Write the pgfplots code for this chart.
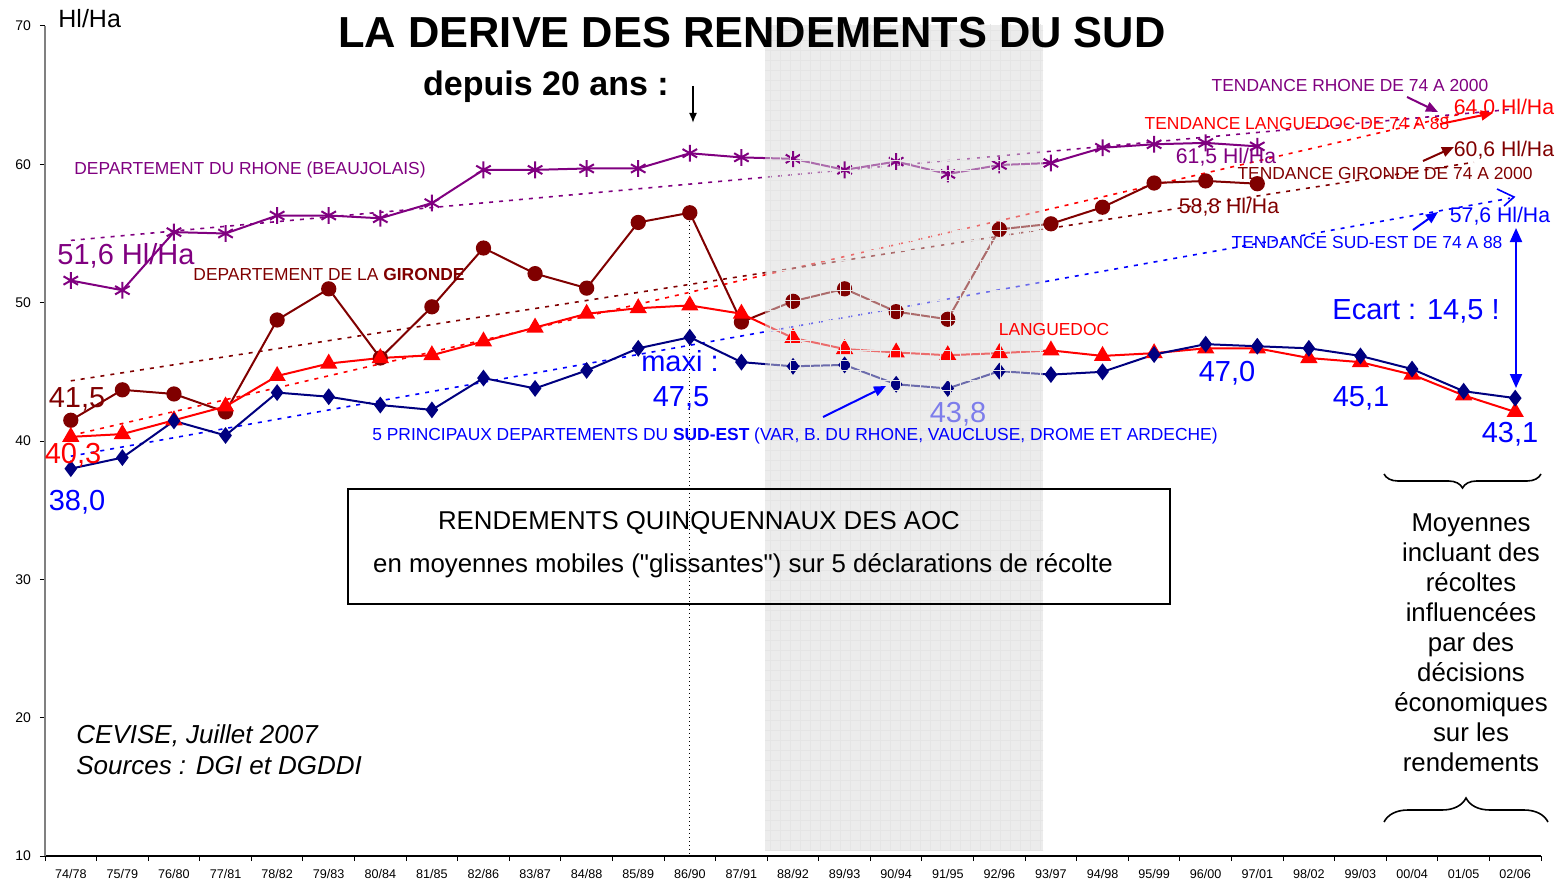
\documentclass[border=0pt]{standalone}
\usepackage{fontspec}
\setmainfont{Liberation Sans}
\newfontfamily\qfont[Ligatures=TeXOff]{Liberation Sans}
\usepackage{pgfplots}
\pgfplotsset{compat=1.18}
\usetikzlibrary{arrows.meta,decorations.pathreplacing}
\definecolor{rh}{RGB}{128,0,128}
\definecolor{gi}{RGB}{128,0,0}
\definecolor{la}{RGB}{255,0,0}
\definecolor{se}{RGB}{0,0,128}
\definecolor{bl}{RGB}{0,0,255}
\definecolor{lb}{RGB}{125,125,235}
\newcommand\fs[1]{\fontsize{#1}{#1}\selectfont}
\begin{document}
\begin{tikzpicture}
\path[use as bounding box] (0,0) rectangle (781pt,440pt);
\begin{axis}[
  at={(22.5pt,12pt)}, anchor=south west, scale only axis,
  width=748pt, height=415pt,
  xmin=-0.5, xmax=28.5, ymin=10, ymax=70,
  axis lines=left, axis line style={-},
  x axis line style={black, line width=0.8pt},
  y axis line style={gray, line width=0.8pt},
  clip=false,
  /pgf/number format/assume math mode=true,
  ytick={10,20,30,40,50,60,70},
  yticklabel style={font=\fs{7}, xshift=-1pt},
  xtick={0,...,28},
  xticklabels={74/78,75/79,76/80,77/81,78/82,79/83,80/84,81/85,82/86,83/87,84/88,85/89,86/90,87/91,88/92,89/93,90/94,91/95,92/96,93/97,94/98,95/99,96/00,97/01,98/02,99/03,00/04,01/05,02/06},
  xticklabel style={font=\fs{6.3}, yshift=-0.5pt},
  major x tick style={draw=none},
  minor xtick={-0.5,0.5,...,28.5},
  tick align=outside,
  major tick length=2.5pt, minor tick length=2.5pt,
  tick style={black, line width=0.5pt},
]
% trend lines
\addplot[rh, line width=0.8pt, dash pattern=on 2pt off 3pt] coordinates {(0,54.5) (28,64.0)};
\addplot[la, line width=0.8pt, dash pattern=on 2pt off 3pt] coordinates {(0,40.4) (26.9,63.6)};
\addplot[gi, line width=0.8pt, dash pattern=on 2pt off 3pt] coordinates {(0,44.35) (27.2,60.15)};
\addplot[bl, line width=0.8pt, dash pattern=on 2pt off 3pt] coordinates {(0,38.9) (27.9,57.55)};
% vertical dotted line at 86/90
\draw[black, line width=0.5pt, dash pattern=on 0.8pt off 1.2pt] (axis cs:12,56.5) -- (axis cs:12,10);
% Rhone
\addplot[rh, line width=1pt, mark=asterisk, mark size=4.2pt, mark options={line width=1pt}] coordinates {
(0,51.6) (1,50.9) (2,55.1) (3,55.0) (4,56.3) (5,56.3) (6,56.1) (7,57.2) (8,59.6) (9,59.6) (10,59.7) (11,59.7) (12,60.8) (13,60.5) (14,60.4) (15,59.6) (16,60.2) (17,59.3) (18,59.95) (19,60.1) (20,61.2) (21,61.45) (22,61.55) (23,61.3)};
% Gironde
\addplot[gi, line width=1pt, mark=*, mark size=3.3pt] coordinates {
(0,41.5) (1,43.7) (2,43.4) (3,42.1) (4,48.75) (5,51.0) (6,46.0) (7,49.7) (8,53.95) (9,52.1) (10,51.05) (11,55.8) (12,56.5) (13,48.6) (14,50.1) (15,51.0) (16,49.35) (17,48.8) (18,55.3) (19,55.7) (20,56.9) (21,58.65) (22,58.8) (23,58.6)};
% Languedoc
\addplot[la, line width=1pt, mark=triangle*, mark size=4pt] coordinates {
(0,40.3) (1,40.5) (2,41.5) (3,42.5) (4,44.7) (5,45.6) (6,46.0) (7,46.2) (8,47.2) (9,48.2) (10,49.2) (11,49.6) (12,49.8) (13,49.2) (14,47.45) (15,46.65) (16,46.4) (17,46.2) (18,46.35) (19,46.55) (20,46.15) (21,46.35) (22,46.7) (23,46.7) (24,46.0) (25,45.7) (26,44.8) (27,43.3) (28,42.1)};
% Sud-Est
\addplot[se, line width=1pt, mark=diamond*, mark size=3.4pt] coordinates {
(0,38.0) (1,38.8) (2,41.45) (3,40.4) (4,43.5) (5,43.2) (6,42.6) (7,42.25) (8,44.55) (9,43.8) (10,45.1) (11,46.7) (12,47.5) (13,45.7) (14,45.4) (15,45.5) (16,44.1) (17,43.8) (18,45.05) (19,44.8) (20,45.0) (21,46.25) (22,47.0) (23,46.85) (24,46.7) (25,46.15) (26,45.2) (27,43.6) (28,43.1)};
% grey overlay
\fill[black!15, opacity=0.5] (axis cs:13.45,10.45) rectangle (axis cs:18.84,70.05);
\end{axis}
\begin{scope}[shift={(0pt,440pt)}, x=0.5pt, y=-0.5pt]
% faint grid in grey band
\begin{scope}
\clip (765,25) rectangle (1043,850);
\draw[black!10, line width=0.3pt, step=5pt] (760,20) grid (1050,855);
\end{scope}
% titles
\node[anchor=base west, inner sep=0] at (58,28) {\fs{12.5}Hl/Ha};
\node[anchor=base, inner sep=0] at (752,48) {\fs{21.7}\bfseries LA DERIVE DES RENDEMENTS DU SUD};
\node[anchor=base, inner sep=0] at (546,96) {\fs{17}\bfseries depuis 20 ans :};
\draw[black, line width=0.8pt, -{Latex[length=5pt,width=4pt]}] (693,86) -- (693,123);
% trend labels
\node[anchor=base, inner sep=0, text=rh] at (1350,92) {\fs{8.7}TENDANCE RHONE DE 74 A 2000};
\node[anchor=base, inner sep=0, text=la] at (1504,115) {\fs{10.6}64,0 Hl/Ha};
\node[anchor=base, inner sep=0, text=la] at (1297,130) {\fs{8.7}TENDANCE LANGUEDOC DE 74 A 88};
\node[anchor=base, inner sep=0, text=gi] at (1504,157) {\fs{10.6}60,6 Hl/Ha};
\node[anchor=base, inner sep=0, text=rh] at (1226,164) {\fs{10.6}61,5 Hl/Ha};
\node[anchor=base, inner sep=0, text=gi] at (1385,180) {\fs{8.7}TENDANCE GIRONDE DE 74 A 2000};
\node[anchor=base, inner sep=0, text=gi] at (1229,213) {\fs{10.6}58,8 Hl/Ha};
\node[anchor=base, inner sep=0, text=bl] at (1500,223) {\fs{10.6}57,6 Hl/Ha};
\node[anchor=base, inner sep=0, text=bl] at (1367,248) {\fs{8.7}TENDANCE SUD-EST DE 74 A 88};
\draw[rh, line width=1pt, -{Triangle[length=6pt,width=5pt]}] (1407,97) -- (1438,112);
\draw[la, line width=1pt, -{Triangle[length=6pt,width=5pt]}] (1440,124) -- (1493,113);
\draw[gi, line width=1pt, -{Triangle[length=6pt,width=5pt]}] (1423,161) -- (1454,147);
\draw[bl, line width=1pt, -{Triangle[length=6pt,width=5pt]}] (1413,230) -- (1438,212);
\draw[bl, line width=0.8pt] (1497,189) -- (1514,197) -- (1504,206);
% ecart
\node[anchor=base, inner sep=0, text=bl] at (1416,319) {\fs{14.5}Ecart : 14,5 !};
\draw[bl, line width=1pt, {Triangle[length=7pt,width=6pt]}-{Triangle[length=7pt,width=6pt]}] (1516,228) -- (1516,388);
% series labels
\node[anchor=base, inner sep=0, text=rh] at (250,175) {\fs{8.7}DEPARTEMENT DU RHONE (BEAUJOLAIS)};
\node[anchor=base, inner sep=0, text=rh] at (126,264) {\fs{14.5}51,6 Hl/Ha};
\node[anchor=base, inner sep=0, text=gi] at (329,280) {\fs{8.7}DEPARTEMENT DE LA \textbf{GIRONDE}};
\node[anchor=base, inner sep=0, text=gi] at (77,407) {\fs{14.5}41,5};
\node[anchor=base, inner sep=0, text=la] at (73,463) {\fs{14.5}40,3};
\node[anchor=base, inner sep=0, text=bl] at (77,510) {\fs{14.5}38,0};
\node[anchor=base, inner sep=0, text=bl] at (680,371) {\fs{14.5}maxi :};
\node[anchor=base, inner sep=0, text=bl] at (681,406) {\fs{14.5}47,5};
\node[anchor=base, inner sep=0, text=bl] at (795,440) {\fs{8.7}5 PRINCIPAUX DEPARTEMENTS DU \textbf{SUD-EST} (VAR, B. DU RHONE, VAUCLUSE, DROME ET ARDECHE)};
\node[anchor=base, inner sep=0, text=lb] at (958,422) {\fs{14.5}43,8};
\draw[bl, line width=1pt, -{Triangle[length=6pt,width=5pt]}] (823,417) -- (886,386);
\node[anchor=base, inner sep=0, text=la] at (1054,335) {\fs{8.7}LANGUEDOC};
\node[anchor=base, inner sep=0, text=bl] at (1227,381) {\fs{14.5}47,0};
\node[anchor=base, inner sep=0, text=bl] at (1361,406) {\fs{14.5}45,1};
\node[anchor=base, inner sep=0, text=bl] at (1510,442) {\fs{14.5}43,1};
% box
\draw[black, line width=0.8pt] (348,489) rectangle (1170,604);
\node[anchor=base, inner sep=0] at (699,529) {\fs{12.9}RENDEMENTS QUINQUENNAUX DES AOC};
\node[anchor=base, inner sep=0] at (743,572) {\fs{12.9}en moyennes mobiles ({\qfont"}glissantes{\qfont"}) sur 5 déclarations de récolte};
% source
\node[anchor=base west, inner sep=0] at (76,743) {\fs{13}\itshape CEVISE, Juillet 2007};
\node[anchor=base west, inner sep=0] at (76,774) {\fs{13}\itshape Sources : DGI et DGDDI};
% right note
\node[anchor=base, inner sep=0] at (1471,531) {\fs{12.9}Moyennes};
\node[anchor=base, inner sep=0] at (1471,561) {\fs{12.9}incluant des};
\node[anchor=base, inner sep=0] at (1471,591) {\fs{12.9}récoltes};
\node[anchor=base, inner sep=0] at (1471,621) {\fs{12.9}influencées};
\node[anchor=base, inner sep=0] at (1471,651) {\fs{12.9}par des};
\node[anchor=base, inner sep=0] at (1471,681) {\fs{12.9}décisions};
\node[anchor=base, inner sep=0] at (1471,711) {\fs{12.9}économiques};
\node[anchor=base, inner sep=0] at (1471,741) {\fs{12.9}sur les};
\node[anchor=base, inner sep=0] at (1471,771) {\fs{12.9}rendements};
\draw[black, line width=0.8pt, decorate, decoration={brace, amplitude=7pt}] (1541,474) -- (1384,474);
\draw[black, line width=0.8pt, decorate, decoration={brace, amplitude=12pt}] (1384,822) -- (1548,822);
\end{scope}
\end{tikzpicture}
\end{document}
